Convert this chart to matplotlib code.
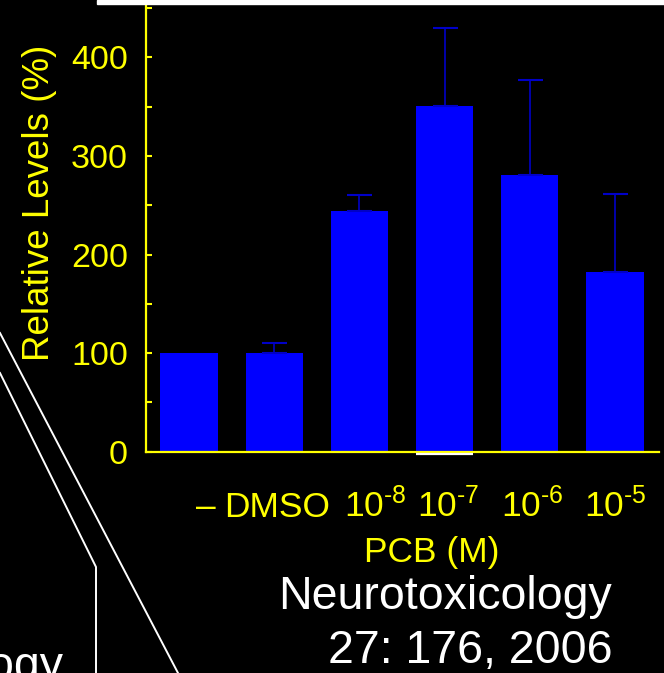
import matplotlib
matplotlib.use("Agg")
import matplotlib.pyplot as plt
import numpy as np
from matplotlib.lines import Line2D
from matplotlib.patches import Rectangle
from matplotlib.ticker import MultipleLocator

# relative levels per PCB treatment (mean, upper error)
groups = ["\u2013", "DMSO", r"10$^{\text{-8}}$", r"10$^{\text{-7}}$",
          r"10$^{\text{-6}}$", r"10$^{\text{-5}}$"]
levels = [100, 100, 244, 351, 281, 182]
errors = [0, 10, 16, 79, 96, 79]

# small horizontal nudges of the group labels (in bar units)
label_shift = [0.2, 0.03, 0.19, 0.04, 0.03, 0.0]

YELLOW = "#FFFF00"
BLUE = "#0000FF"

plt.rcParams["font.family"] = ["Liberation Sans", "DejaVu Sans"]
plt.rcParams["mathtext.fontset"] = "custom"
plt.rcParams["mathtext.rm"] = "Liberation Sans"
plt.rcParams["mathtext.it"] = "Liberation Sans"

W, H = 664, 673
fig = plt.figure(figsize=(W / 100, H / 100), dpi=100, facecolor="black")


def fx(px):
    return px / W


def fy(py):
    return (H - py) / H


ax = fig.add_axes([fx(146), fy(451.8), fx(659) - fx(146), 451.8 / H])
ax.set_facecolor("black")

x = np.arange(len(levels))
yerr = [np.zeros(len(errors)), errors]
ax.bar(x, levels, width=0.67, color=BLUE, zorder=2)
ax.errorbar(x[1:], levels[1:], yerr=[yerr[0][1:], yerr[1][1:]], fmt="none",
            ecolor="#0000C8", elinewidth=1.2, capsize=9, capthick=1.5, zorder=3)
# highlight strip under the 10^-7 bar
ax.hlines(-2.5, x[3] - 0.335, x[3] + 0.335, color="white", lw=1.6,
          clip_on=False, zorder=5)

ax.set_xlim(-0.505, 5.516)
ax.set_ylim(0, 458)

for side in ["top", "right"]:
    ax.spines[side].set_visible(False)
for side in ["left", "bottom"]:
    ax.spines[side].set_color(YELLOW)
    ax.spines[side].set_linewidth(1.6)
    ax.spines[side].set_zorder(4)

ax.set_xticks([])
ax.yaxis.set_major_locator(MultipleLocator(100))
ax.yaxis.set_minor_locator(MultipleLocator(50))
ax.tick_params(axis="y", which="both", direction="in", length=4, width=1.5,
               color=YELLOW, labelcolor=YELLOW, labelsize=24.5, pad=13)

# group labels under the bars
for xi, lab, dx in zip(x, groups, label_shift):
    ax.text(xi + dx, (451.8 - 517) / 451.8, lab,
            transform=ax.get_xaxis_transform(), ha="center", va="baseline",
            color=YELLOW, fontsize=25.5)

fig.text(fx(432), fy(562), "PCB (M)", ha="center", va="baseline",
         color=YELLOW, fontsize=25.5)
fig.text(fx(40), fy(203), "Relative Levels (%)", rotation=90, ha="center",
         va="center", color=YELLOW, fontsize=26.5)

# citation
fig.text(fx(612), fy(609), "Neurotoxicology", ha="right", va="baseline",
         color="white", fontsize=33.5)
fig.text(fx(613), fy(663), "27: 176, 2006", ha="right", va="baseline",
         color="white", fontsize=33.5)
fig.text(fx(63), fy(679), "ogy", ha="right", va="baseline",
         color="white", fontsize=33.5)

# callout lines on the left
fig.add_artist(Line2D([fx(0), fx(178)], [fy(333), fy(673)], color="white",
                      lw=1.4, transform=fig.transFigure))
fig.add_artist(Line2D([fx(0), fx(96), fx(96)], [fy(373), fy(567), fy(673)],
                      color="white", lw=1.4, transform=fig.transFigure))

# white panel edge along the top
fig.add_artist(Rectangle((fx(97), fy(4)), 1 - fx(97), 4 / H, color="white",
                         transform=fig.transFigure, zorder=10))

fig.savefig("out.png", dpi=100, facecolor="black")
